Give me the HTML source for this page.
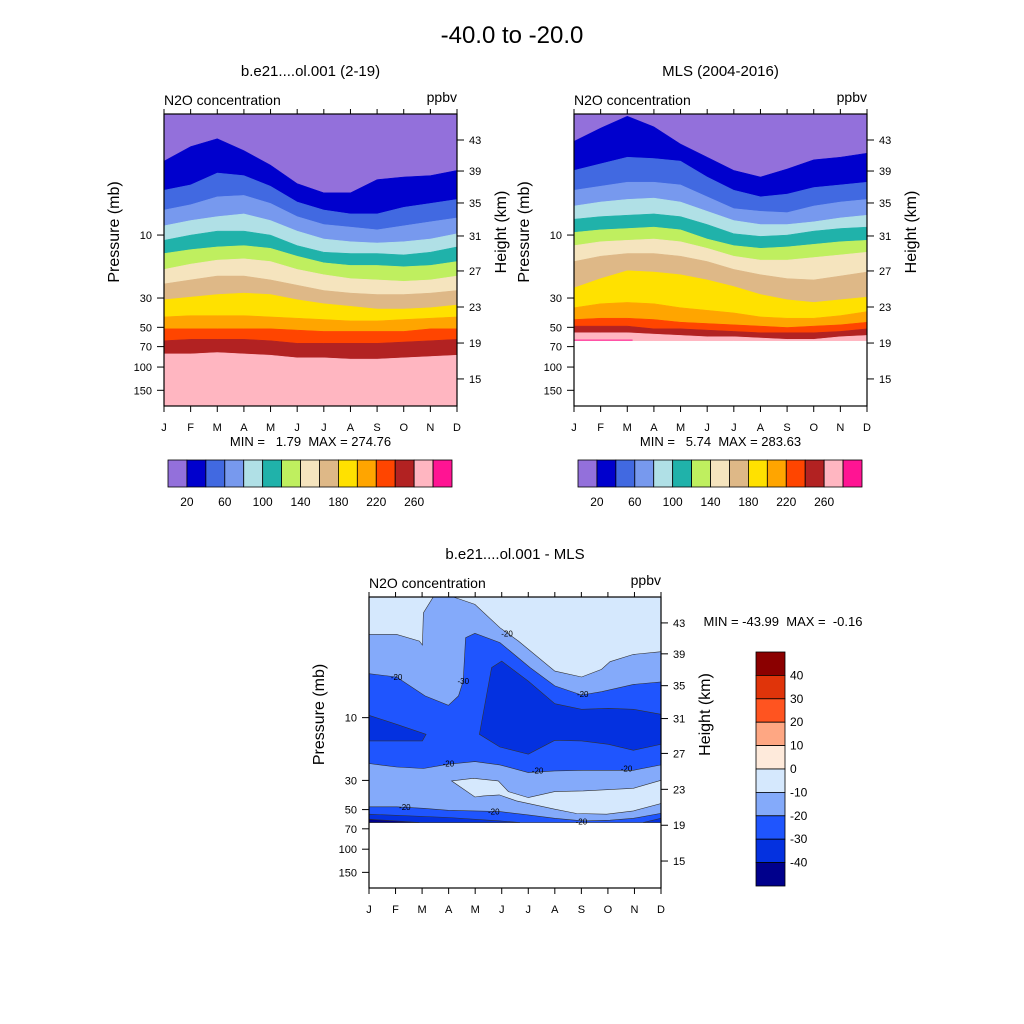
<!DOCTYPE html>
<html><head><meta charset="utf-8">
<style>
html,body{margin:0;padding:0;background:#fff;}
svg{display:block;font-family:"Liberation Sans",sans-serif;}
svg text{white-space:pre;}
</style></head>
<body>
<svg id="fig" width="1024" height="1024" viewBox="0 0 1024 1024" xmlns="http://www.w3.org/2000/svg">
<rect width="1024" height="1024" fill="#fff"/>
<text x="512" y="43" font-size="24" text-anchor="middle">-40.0 to -20.0</text>
</svg>
<script>
// ---------- data ----------
const months = ["J","F","M","A","M","J","J","A","S","O","N","D"];
const pressureTicks = [10,30,50,70,100,150];
const heightTicks = [43,39,35,31,27,23,19,15];
const heightLogP = [0.28,0.515,0.757,1.007,1.272,1.545,1.818,2.09];
const levelLabels = [20,60,100,140,180,220,260];
const fillColors = ["#9370db","#0000cd","#4169e1","#7799ee","#b0e0e6","#20b2aa","#bfef5f","#f5e4be","#deb887","#ffe100","#ffa500","#ff4500","#b22222","#ffb6c1","#ff1493"];
// boundaries (log10 pressure) per month for contour levels 20..260 step 20 — model
const modelB = [
[.44,.33,.27,.36,.47,.61,.68,.68,.58,.56,.55,.51],
[.66,.62,.53,.55,.63,.75,.81,.84,.84,.79,.76,.73],
[.81,.77,.71,.70,.76,.86,.92,.94,.96,.93,.90,.87],
[.93,.89,.86,.84,.89,.97,1.03,1.05,1.06,1.05,1.03,.99],
[1.04,1.00,.97,.97,1.00,1.08,1.13,1.14,1.14,1.15,1.13,1.09],
[1.14,1.11,1.09,1.08,1.10,1.16,1.21,1.23,1.23,1.24,1.23,1.20],
[1.26,1.22,1.19,1.18,1.20,1.26,1.30,1.33,1.34,1.35,1.34,1.31],
[1.37,1.34,1.31,1.31,1.34,1.38,1.42,1.44,1.45,1.45,1.44,1.42],
[1.49,1.47,1.45,1.44,1.45,1.49,1.52,1.54,1.56,1.56,1.55,1.53],
[1.62,1.61,1.61,1.61,1.62,1.63,1.64,1.65,1.65,1.64,1.63,1.62],
[1.71,1.71,1.71,1.71,1.71,1.72,1.73,1.73,1.73,1.73,1.71,1.71],
[1.80,1.79,1.79,1.79,1.80,1.82,1.82,1.82,1.82,1.81,1.80,1.79],
[1.90,1.90,1.89,1.90,1.91,1.93,1.93,1.94,1.94,1.93,1.92,1.91]
];
const modelBottom = 2.295;
// MLS
const mlsB = [
[.29,.19,.10,.18,.31,.41,.51,.56,.50,.43,.41,.38],
[.51,.46,.41,.42,.44,.56,.66,.71,.69,.64,.62,.60],
[.66,.63,.60,.60,.62,.71,.80,.82,.83,.78,.75,.73],
[.78,.75,.73,.72,.75,.82,.89,.92,.92,.90,.87,.85],
[.88,.86,.85,.84,.86,.92,.99,1.01,1.00,.97,.95,.94],
[.98,.96,.95,.94,.96,1.03,1.08,1.10,1.09,1.07,1.05,1.04],
[1.08,1.05,1.04,1.03,1.05,1.10,1.16,1.19,1.19,1.17,1.15,1.13],
[1.20,1.16,1.14,1.14,1.16,1.20,1.26,1.30,1.33,1.34,1.31,1.28],
[1.40,1.33,1.27,1.28,1.30,1.34,1.39,1.45,1.49,1.51,1.49,1.47],
[1.55,1.52,1.51,1.52,1.55,1.57,1.59,1.62,1.63,1.63,1.61,1.58],
[1.64,1.63,1.63,1.64,1.66,1.67,1.68,1.69,1.70,1.69,1.68,1.66],
[1.69,1.69,1.69,1.71,1.71,1.72,1.73,1.74,1.74,1.74,1.73,1.71],
[1.74,1.74,1.74,1.75,1.76,1.77,1.77,1.78,1.79,1.79,1.77,1.76]
];
const mlsBottom = 1.80;
// difference panel regions: [month, log10 p] vertices
const diffBottom = 1.797;
const lightTopLeft = [[0,.083],[2.42,.083],[2.05,.203],[2.01,.448],[1.90,.418],[1.04,.367],[0,.367]];
const lightTopRight = [[3.18,.083],[11,.083],[11,.499],[9.96,.519],[9.08,.575],[8.76,.633],[8.01,.691],[7.0,.646],[5.63,.418],[4.93,.316],[3.99,.139]];
const lightLow = [[3.11,1.481],[3.93,1.461],[4.87,1.481],[5.25,1.562],[6.0,1.608],[7.0,1.562],[8.07,1.557],[9.96,1.537],[11,1.476],[11,1.653],[9.96,1.709],[8.95,1.734],[7.82,1.729],[7.0,1.696],[5.56,1.633],[4.91,1.587],[4.31,1.595],[3.99,1.603]];
const lt20Mid = [[0,.666],[1.04,.691],[2.11,.835],[2.99,.906],[3.37,.835],[3.55,.722],[3.64,.392],[3.99,.359],[4.93,.430],[6.07,.620],[7.0,.759],[8.01,.828],[8.76,.803],[9.96,.747],[11,.729],[11,1.359],[9.96,1.400],[8.07,1.400],[7.0,1.405],[6.0,1.418],[4.93,1.359],[3.99,1.334],[2.99,1.354],[2.05,1.387],[1.04,1.375],[0,1.349]];
const lt20Low = [[0,1.678],[1.04,1.678],[2.05,1.689],[2.99,1.704],[4.93,1.714],[6.0,1.739],[7.0,1.765],[8.07,1.785],[9.08,1.780],[9.96,1.765],[11,1.727],[11,1.797],[0,1.797]];
const lt30Left = [[0,.982],[1.04,1.051],[2.15,1.127],[2.01,1.177],[0,1.177]];
const lt30Mid = [[4.16,1.127],[4.62,.620],[5.0,.570],[6.0,.722],[7.0,.894],[8.01,.937],[9.02,.929],[9.96,.937],[11,.975],[11,1.203],[9.96,1.248],[9.02,1.203],[8.01,1.177],[7.0,1.172],[6.0,1.278],[4.93,1.223]];
const lt30Low = [[0,1.734],[2.99,1.759],[4.93,1.785],[5.69,1.797],[0,1.797]];
const lt30Right = [[10.33,1.797],[11,1.765],[11,1.797]];
const lt40 = [[0,1.772],[1.9,1.797],[0,1.797]];
const diffColors = ["#8b0000","#e0340a","#ff5420","#fea783","#feeadb","#d5e8fd","#84aafa","#1f55fe","#0431e0","#00008c"];
const diffLabels = [40,30,20,10,0,-10,-20,-30,-40];
const contourLabels = [[1.04,.691,"-20"],[3.55,.722,"-30"],[5.2,.36,"-20"],[8.05,.82,"-20"],[2.99,1.35,"-20"],[6.35,1.40,"-20"],[9.7,1.385,"-20"],[1.35,1.68,"-20"],[4.7,1.714,"-20"],[8.0,1.79,"-20"]];

// ---------- drawing ----------
const NS="http://www.w3.org/2000/svg";
const svg=document.getElementById("fig");
function el(tag,attrs,parent){const e=document.createElementNS(NS,tag);for(const k in attrs)e.setAttribute(k,attrs[k]);(parent||svg).appendChild(e);return e;}
function txt(x,y,s,size,anchor,parent){const t=el("text",{x:x,y:y,"font-size":size,"text-anchor":anchor||"middle"},parent);t.textContent=s;return t;}

function makeAxes(x0,x1,y0,y1){
  const yTop=0.083,yBot=2.295;
  return {
    x:m=>x0+(x1-x0)*m/11,
    y:L=>y0+(y1-y0)*(L-yTop)/(yBot-yTop),
    x0,x1,y0,y1
  };
}

function drawFrame(g,ax,title,minmax){
  const {x0,x1,y0,y1}=ax;
  el("rect",{x:x0,y:y0,width:x1-x0,height:y1-y0,fill:"none",stroke:"#000","stroke-width":1.2},g);
  months.forEach((m,i)=>{
    const x=ax.x(i);
    el("line",{x1:x,y1:y1,x2:x,y2:y1+6,stroke:"#000"},g);
    el("line",{x1:x,y1:y0,x2:x,y2:y0-5,stroke:"#000"},g);
    const t=txt(x,y1+25,m,11,"middle",g);
    
    
  });
  pressureTicks.forEach(p=>{
    const y=ax.y(Math.log10(p));
    el("line",{x1:x0-7,y1:y,x2:x0,y2:y,stroke:"#000"},g);
    const t=txt(x0-12,y+4,String(p),11,"end",g);
    
    
  });
  heightTicks.forEach((h,i)=>{
    const y=ax.y(heightLogP[i]);
    el("line",{x1:x1,y1:y,x2:x1+7,y2:y,stroke:"#000"},g);
    const t=txt(x1+12,y+4,String(h),11,"start",g);
    
    
  });
  const tt=txt((x0+x1)/2,y0-38,title,15,"middle",g);
  
  
  const n=txt(x0,y0-9,"N2O concentration",14,"start",g);
  
  
  const u=txt(x1,y0-12,"ppbv",14,"end",g);
  
  
  const py=(y0+y1)/2-28;
  const pl=txt(0,0,"Pressure (mb)",16,"middle",g);
  pl.setAttribute("transform","translate("+(x0-45)+","+py+") rotate(-90)");
  
  
  const hl=txt(0,0,"Height (km)",16,"middle",g);
  hl.setAttribute("transform","translate("+(x1+49)+","+py+") rotate(-90)");
  
  
  if(minmax){
    const mm=txt((x0+x1)/2,y1+40,minmax,13,"middle",g);
    
    
  }
}

function drawBands(g,ax,bounds,bottom){
  const n=bounds.length;
  for(let k=0;k<=n;k++){
    const upper=k===0?null:bounds[k-1];
    const lower=k===n?null:bounds[k];
    let pts=[];
    for(let i=0;i<12;i++)pts.push([ax.x(i),upper?ax.y(upper[i]):ax.y(0.083)]);
    for(let i=11;i>=0;i--)pts.push([ax.x(i),lower?ax.y(lower[i]):ax.y(bottom)]);
    const p=el("polygon",{points:pts.map(q=>q[0].toFixed(1)+","+q[1].toFixed(1)).join(" "),fill:fillColors[k],stroke:fillColors[k],"stroke-width":0.5},g);
    
    
  }
}

function drawHBar(g,x0,y0,w,h){
  const bw=w/fillColors.length;
  fillColors.forEach((c,i)=>{
    const r=el("rect",{x:x0+i*bw,y:y0,width:bw,height:h,fill:c,stroke:"#000","stroke-width":0.8},g);
    
    
  });
  levelLabels.forEach((v,i)=>{
    const t=txt(x0+(2*i+1)*bw,y0+h+19,String(v),12,"middle",g);
    
    
  });
}

// panel 1
const g1=el("g",{});


const ax1=makeAxes(164,457,114,406);
drawBands(g1,ax1,modelB,modelBottom);
drawFrame(g1,ax1,"b.e21....ol.001 (2-19)","MIN =   1.79  MAX = 274.76");
const cb1=el("g",{});


drawHBar(cb1,168,460,284,27);

// panel 2
const g2=el("g",{});


const ax2=makeAxes(574,867,114,406);
drawBands(g2,ax2,mlsB,mlsBottom);
el("line",{x1:ax2.x(0),y1:ax2.y(mlsBottom)-0.5,x2:ax2.x(2.2),y2:ax2.y(mlsBottom)-0.5,stroke:"#ff1493","stroke-width":1},g2);
drawFrame(g2,ax2,"MLS (2004-2016)","MIN =   5.74  MAX = 283.63");
const cb2=el("g",{});


drawHBar(cb2,578,460,284,27);

// panel 3
const g3=el("g",{});


const ax3=makeAxes(369,661,597,888);
function poly(pts,color,name){
  const p=el("polygon",{points:pts.map(q=>ax3.x(q[0]).toFixed(1)+","+ax3.y(q[1]).toFixed(1)).join(" "),fill:color,stroke:"#333","stroke-width":0.6},g3);
  
  
}
poly([[0,.083],[11,.083],[11,diffBottom],[0,diffBottom]],diffColors[6],"region-minus20-to-minus10");
poly(lightTopLeft,diffColors[5],"region-minus10-to-0-top-left");
poly(lightTopRight,diffColors[5],"region-minus10-to-0-top-right");
poly(lightLow,diffColors[5],"region-minus10-to-0-lower");
poly(lt20Mid,diffColors[7],"region-minus30-to-minus20");
poly(lt20Low,diffColors[7],"region-minus30-to-minus20-lower");
poly(lt30Left,diffColors[8],"region-minus40-to-minus30-left");
poly(lt30Mid,diffColors[8],"region-minus40-to-minus30-center");
poly(lt30Low,diffColors[8],"region-minus40-to-minus30-lower");
poly(lt30Right,diffColors[8],"region-minus40-to-minus30-right");
poly(lt40,diffColors[9],"region-below-minus40");
contourLabels.forEach(c=>{
  const t=txt(ax3.x(c[0]),ax3.y(c[1])+3,c[2],8,"middle",g3);
  
  
});
drawFrame(g3,ax3,"b.e21....ol.001 - MLS",null);
const mm3=txt(783,626,"MIN = -43.99  MAX =  -0.16",13,"middle",g3);


const cb3=el("g",{});


const vbH=(886-652)/diffColors.length;
diffColors.forEach((c,i)=>{
  const r=el("rect",{x:756,y:652+i*vbH,width:29,height:vbH,fill:c,stroke:"#000","stroke-width":0.8},cb3);
  
  
});
diffLabels.forEach((v,i)=>{
  const t=txt(790,652+(i+1)*vbH+4,String(v),12,"start",cb3);
  
  
});
</script>
</body></html>
